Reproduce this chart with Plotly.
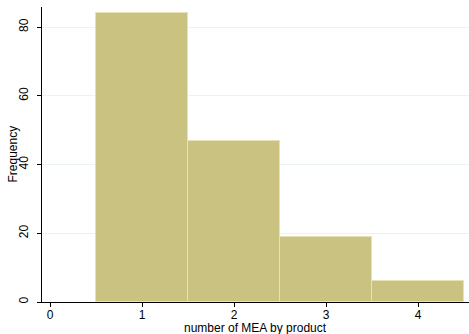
import plotly.graph_objects as go

categories = [1, 2, 3, 4]
frequency = [84, 47, 19, 6]
x_ticks = [0, 1, 2, 3, 4]
y_ticks = [0, 20, 40, 60, 80]

fig = go.Figure()
fig.add_trace(go.Bar(
    x=categories, y=frequency, width=1,
    marker=dict(color="rgb(201,194,129)", line=dict(color="rgb(230,226,180)", width=1)),
))

fig.update_layout(
    width=469, height=334,
    margin=dict(l=42, r=0, t=7, b=32),
    paper_bgcolor="white", plot_bgcolor="white",
    showlegend=False, bargap=0,
    font=dict(family="Liberation Sans, Arial, sans-serif", size=12, color="black"),
)
fig.update_xaxes(
    range=[-0.087, 4.554], tickvals=x_ticks, ticks="outside", ticklen=4,
    tickcolor="black", showline=True, linecolor="black", linewidth=1,
    showgrid=False, zeroline=False, ticklabelstandoff=-2,
)
fig.add_annotation(
    text="number of MEA by product", xref="paper", x=0.5, yref="paper",
    y=-26 / 295, xanchor="center", yanchor="middle", showarrow=False,
    font=dict(size=12), borderpad=0,
)
fig.add_annotation(
    text="Frequency", xref="paper", x=-30 / 427, yref="paper",
    y=0.5, xanchor="center", yanchor="middle", showarrow=False,
    textangle=-90, font=dict(size=12), borderpad=0,
)
fig.update_yaxes(
    range=[0, 85.85], tickvals=y_ticks, ticks="outside", ticklen=4,
    tickcolor="black", showline=True, linecolor="black", linewidth=1,
    showgrid=True, gridcolor="rgb(234,242,243)", gridwidth=1, zeroline=False,
    tickangle=-90, ticklabelstandoff=4,
)
fig.write_html("out.html")
